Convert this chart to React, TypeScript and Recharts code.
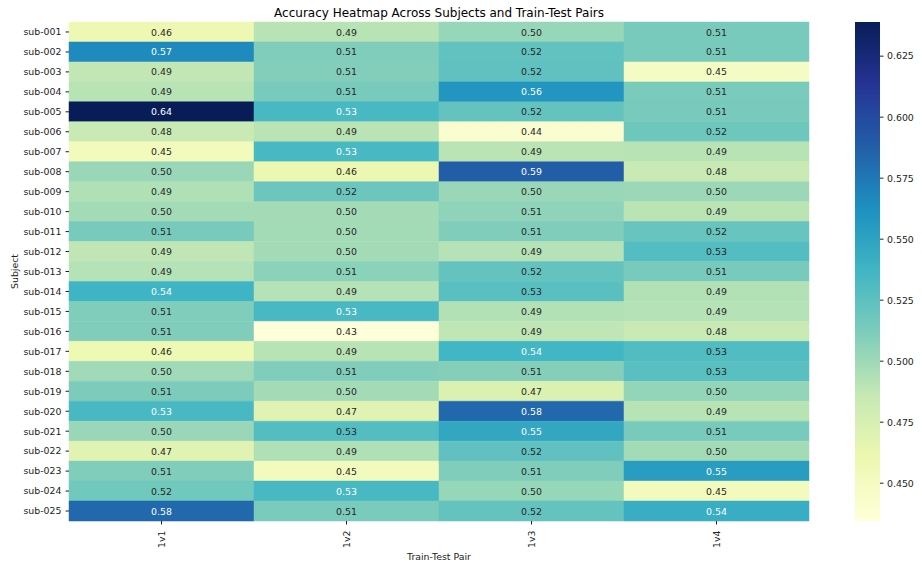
import { BarChart, Bar, XAxis, YAxis, Cell, LabelList } from "recharts";

const subjects = [
  "sub-001", "sub-002", "sub-003", "sub-004", "sub-005", "sub-006", "sub-007",
  "sub-008", "sub-009", "sub-010", "sub-011", "sub-012", "sub-013", "sub-014",
  "sub-015", "sub-016", "sub-017", "sub-018", "sub-019", "sub-020", "sub-021",
  "sub-022", "sub-023", "sub-024", "sub-025",
];
const pairs = ["1v1", "1v2", "1v3", "1v4"];

// accuracy per subject, one list per train-test pair
const acc1v1 = [0.459, 0.566, 0.487, 0.491, 0.639, 0.484, 0.453, 0.502, 0.494, 0.498, 0.514, 0.488, 0.492, 0.538, 0.511, 0.511, 0.458, 0.499, 0.512, 0.534, 0.502, 0.469, 0.511, 0.517, 0.583];
const acc1v2 = [0.491, 0.511, 0.510, 0.514, 0.534, 0.490, 0.534, 0.461, 0.519, 0.498, 0.498, 0.498, 0.507, 0.492, 0.534, 0.4345, 0.491, 0.511, 0.498, 0.468, 0.529, 0.494, 0.452, 0.534, 0.513];
const acc1v3 = [0.503, 0.523, 0.524, 0.559, 0.522, 0.441, 0.490, 0.588, 0.502, 0.506, 0.511, 0.492, 0.522, 0.527, 0.493, 0.488, 0.537, 0.509, 0.472, 0.583, 0.547, 0.524, 0.511, 0.503, 0.522];
const acc1v4 = [0.514, 0.514, 0.448, 0.513, 0.514, 0.518, 0.491, 0.484, 0.501, 0.490, 0.521, 0.529, 0.514, 0.493, 0.492, 0.484, 0.530, 0.527, 0.504, 0.491, 0.514, 0.498, 0.554, 0.452, 0.543];

const colorbarTicks = [0.45, 0.475, 0.5, 0.525, 0.55, 0.575, 0.6, 0.625];

const series = [acc1v1, acc1v2, acc1v3, acc1v4];
const rows = subjects.map((s, i) => {
  const r: any = { subject: s };
  pairs.forEach((p, j) => (r[p] = series[j][i]));
  return r;
});
const all = series.flat();
const vmin = Math.min(...all);
const vmax = Math.max(...all);

// YlGnBu
const stops = ["#ffffd9", "#edf8b1", "#c7e9b4", "#7fcdbb", "#41b6c4", "#1d91c0", "#225ea8", "#253494", "#081d58"];
const hex = (h: string) => [1, 3, 5].map((k) => parseInt(h.slice(k, k + 2), 16));

function rgbFor(v: number) {
  const t = Math.max(0, Math.min(1, (v - vmin) / (vmax - vmin))) * (stops.length - 1);
  const i = Math.min(Math.floor(t), stops.length - 2);
  const f = t - i;
  const a = hex(stops[i]);
  const b = hex(stops[i + 1]);
  return a.map((c, k) => Math.round(c + (b[k] - c) * f));
}
const colorFor = (v: number) => {
  const [r, g, b] = rgbFor(v);
  return `rgb(${r},${g},${b})`;
};
const textFor = (v: number) => {
  const lin = rgbFor(v).map((c) => {
    const s = c / 255;
    return s <= 0.03928 ? s / 12.92 : Math.pow((s + 0.055) / 1.055, 2.4);
  });
  const lum = 0.2126 * lin[0] + 0.7152 * lin[1] + 0.0722 * lin[2];
  return lum > 0.408 ? "#262626" : "#ffffff";
};

const FONT = "'DejaVu Sans', sans-serif";
const tickStyle = { fill: "#222", fontSize: 9.4, fontFamily: FONT };

const CellLabel = (props: any) => {
  const { x, y, width, height, value } = props;
  return (
    <text
      x={x + width / 2}
      y={y + height / 2}
      textAnchor="middle"
      dominantBaseline="central"
      fontSize={9.4}
      fontFamily={FONT}
      fill={textFor(value)}
    >
      {value.toFixed(2)}
    </text>
  );
};

const PairTick = (props: any) => {
  const { x, y, payload } = props;
  return (
    <text
      x={x}
      y={y}
      transform={`rotate(-90 ${x} ${y})`}
      textAnchor="end"
      dominantBaseline="central"
      {...tickStyle}
    >
      {pairs[Math.floor(payload.value)]}
    </text>
  );
};

export default function App() {
  return (
    <div style={{ position: "absolute", left: 0, top: 0, width: 922, height: 568, background: "#fff" }}>
      <div
        style={{
          position: "absolute",
          left: 69,
          top: 5,
          width: 740,
          textAlign: "center",
          fontFamily: FONT,
          fontSize: 12,
          lineHeight: "16px",
          color: "#000",
        }}
      >
        Accuracy Heatmap Across Subjects and Train-Test Pairs
      </div>

      {/* heatmap */}
      <div style={{ position: "absolute", left: 0, top: 0 }}>
        <BarChart
          width={922}
          height={568}
          data={rows}
          layout="vertical"
          barCategoryGap={0}
          margin={{ top: 22, right: 113, bottom: 0, left: 0 }}
        >
          <XAxis
            type="number"
            domain={[0, 4]}
            ticks={[0.5, 1.5, 2.5, 3.5]}
            interval={0}
            height={47}
            axisLine={false}
            tickSize={3.5}
            tickMargin={6}
            tickLine={{ stroke: "#222" }}
            tick={<PairTick />}
            label={{
              content: (p: any) => {
                const vb = p.viewBox;
                return (
                  <text
                    x={vb.x + vb.width / 2}
                    y={vb.y + 35.5}
                    textAnchor="middle"
                    dominantBaseline="central"
                    {...tickStyle}
                  >
                    Train-Test Pair
                  </text>
                );
              },
            }}
          />
          <YAxis
            type="category"
            dataKey="subject"
            width={69}
            interval={0}
            axisLine={false}
            tickSize={3.5}
            tickMargin={4}
            tickLine={{ stroke: "#222" }}
            tick={tickStyle}
            label={{
              content: (p: any) => {
                const vb = p.viewBox;
                const cx = vb.x + 14.5;
                const cy = vb.y + vb.height / 2;
                return (
                  <text
                    x={cx}
                    y={cy}
                    transform={`rotate(-90 ${cx} ${cy})`}
                    textAnchor="middle"
                    dominantBaseline="central"
                    {...tickStyle}
                  >
                    Subject
                  </text>
                );
              },
            }}
          />
          {pairs.map((p) => (
            <Bar key={p} dataKey={() => 1} stackId="grid" isAnimationActive={false}>
              {rows.map((r, i) => (
                <Cell key={i} fill={colorFor(r[p])} stroke={colorFor(r[p])} strokeWidth={0.5} />
              ))}
              <LabelList dataKey={p} content={<CellLabel />} />
            </Bar>
          ))}
        </BarChart>
      </div>

      {/* colorbar */}
      <div style={{ position: "absolute", left: 840, top: 0 }}>
        <BarChart
          width={82}
          height={568}
          data={[{ name: "cb", span: [vmin, vmax] }]}
          barCategoryGap={0}
          margin={{ top: 22, right: 0, bottom: 47, left: 15 }}
        >
          <defs>
            <linearGradient id="ylgnbu" x1="0" y1="1" x2="0" y2="0">
              {stops.map((c, i) => (
                <stop key={i} offset={i / (stops.length - 1)} stopColor={c} />
              ))}
            </linearGradient>
          </defs>
          <XAxis dataKey="name" hide />
          <YAxis
            type="number"
            orientation="right"
            domain={[vmin, vmax]}
            ticks={colorbarTicks}
            interval={0}
            width={42}
            axisLine={false}
            tickSize={3.5}
            tickMargin={3.5}
            tickLine={{ stroke: "#222" }}
            tick={tickStyle}
            tickFormatter={(v: number) => v.toFixed(3)}
          />
          <Bar dataKey="span" fill="url(#ylgnbu)" isAnimationActive={false} />
        </BarChart>
      </div>
    </div>
  );
}
